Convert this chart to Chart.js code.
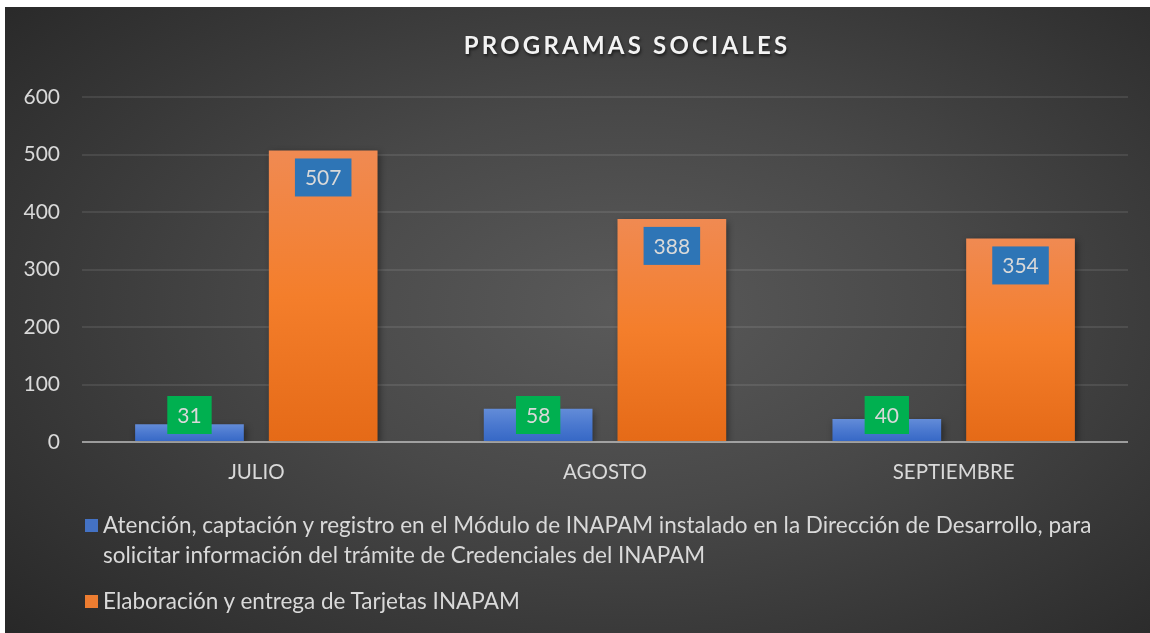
<!DOCTYPE html>
<html>
<head>
<meta charset="utf-8">
<script src="https://cdn.jsdelivr.net/npm/chart.js@4"></script>
<style>
  html, body { margin: 0; padding: 0; background: #ffffff; }
  body { width: 1150px; height: 633px; position: relative; overflow: hidden; }
  #frame {
    position: absolute; left: 5px; top: 7px; width: 1145px; height: 626px;
    background: radial-gradient(ellipse 75% 80% at 54% 48%, #5a5a5a 0%, #484848 40%, #343434 75%, #262626 100%);
  }
  #chartWrap { position: absolute; left: 0; top: 0; width: 1145px; height: 626px; }
  #legend {
    position: absolute; left: 80px; top: 503px; width: 1050px;
    font-family: Lato, "Open Sans", sans-serif; font-size: 22.5px; color: #d9d9d9; line-height: 30px;
  }
  .item { display: flex; align-items: flex-start; margin-bottom: 16px; }
  .sw { width: 13px; height: 13px; margin-top: 9px; margin-right: 5px; flex: 0 0 13px; }
  .txt { width: 990px; }
</style>
</head>
<body>
<div id="frame">
  <div id="chartWrap"><canvas id="c"></canvas></div>
  <div id="legend"></div>
</div>
<script>
const chartTitle = 'PROGRAMAS SOCIALES';
const categories = ['JULIO', 'AGOSTO', 'SEPTIEMBRE'];
const seriesNames = [
  'Atención, captación y registro en el Módulo de INAPAM instalado en la Dirección de Desarrollo, para solicitar información del trámite de Credenciales del INAPAM',
  'Elaboración y entrega de Tarjetas INAPAM'
];
const atencionValues = [31, 58, 40];
const tarjetasValues = [507, 388, 354];
const yMin = 0, yMax = 600, yStep = 100;

const FONT = 'Lato, "Open Sans", sans-serif';
const TEXT = '#d9d9d9';

function barGradient(stops, fallback) {
  return function (ctx) {
    const chart = ctx.chart;
    if (!chart.chartArea || ctx.raw === undefined) return fallback;
    const y = chart.scales.y;
    const top = y.getPixelForValue(ctx.raw);
    const base = y.getPixelForValue(0);
    if (!isFinite(top) || !isFinite(base) || top === base) return fallback;
    const g = chart.ctx.createLinearGradient(0, top, 0, base);
    stops.forEach(s => g.addColorStop(s[0], s[1]));
    return g;
  };
}
const blueStops = [[0, '#638cd8'], [0.5, '#4a78cf'], [1, '#3567c5']];
const orangeStops = [[0, '#f08a52'], [0.5, '#f47e2b'], [1, '#e56a17']];
const seriesSwatch = ['#4472c4', '#ed7d31'];
const labelBoxColors = ['#00b050', '#2e75b6'];

const shadowPlugin = {
  id: 'barShadow',
  beforeDatasetsDraw(chart) {
    const c = chart.ctx;
    c.save();
    c.shadowColor = 'rgba(0,0,0,0.45)';
    c.shadowBlur = 7;
    c.shadowOffsetX = 2;
    c.shadowOffsetY = 3;
  },
  afterDatasetsDraw(chart) { chart.ctx.restore(); }
};

const overlayPlugin = {
  id: 'overlay',
  afterDatasetsDraw(chart) {
    const c = chart.ctx;
    const area = chart.chartArea;
    const y0 = chart.scales.y.getPixelForValue(0);
    c.save();
    c.strokeStyle = 'rgba(200,200,200,0.65)';
    c.lineWidth = 2;
    c.beginPath();
    c.moveTo(area.left, y0);
    c.lineTo(area.right, y0);
    c.stroke();
    // data labels
    c.font = '21px ' + FONT;
    c.textAlign = 'center';
    c.textBaseline = 'middle';
    chart.data.datasets.forEach((ds, di) => {
      const meta = chart.getDatasetMeta(di);
      meta.data.forEach((bar, i) => {
        const txt = String(ds.data[i]);
        const w = c.measureText(txt).width + 20;
        const h = 38;
        let top;
        if (di === 0) top = bar.base - 7 - h;
        else top = bar.y + 8;
        c.fillStyle = labelBoxColors[di];
        c.fillRect(bar.x - w / 2, top, w, h);
        c.fillStyle = TEXT;
        c.fillText(txt, bar.x, top + h / 2 + 1);
      });
    });
    c.restore();
  }
};

const titlePlugin = {
  id: 'customTitle',
  afterDraw(chart) {
    const c = chart.ctx;
    c.save();
    c.font = 'bold 24px ' + FONT;
    if ('letterSpacing' in c) c.letterSpacing = '3.2px';
    c.textAlign = 'center';
    c.textBaseline = 'middle';
    c.shadowColor = 'rgba(0,0,0,0.6)';
    c.shadowBlur = 3;
    c.shadowOffsetX = 1;
    c.shadowOffsetY = 2;
    c.fillStyle = '#f2f2f2';
    c.fillText(chartTitle, 622, 39);
    c.restore();
  }
};

const chart = new Chart(document.getElementById('c'), {
  type: 'bar',
  data: {
    labels: categories,
    datasets: [
      { label: seriesNames[0], data: atencionValues, backgroundColor: barGradient(blueStops, seriesSwatch[0]), borderWidth: 0 },
      { label: seriesNames[1], data: tarjetasValues, backgroundColor: barGradient(orangeStops, seriesSwatch[1]), borderWidth: 0 }
    ]
  },
  options: {
    responsive: true,
    maintainAspectRatio: false,
    animation: false,
    categoryPercentage: 0.767,
    barPercentage: 0.813,
    layout: { padding: { top: 90, right: 22, bottom: 0, left: 0 } },
    plugins: {
      legend: { display: false },
      title: { display: false },
      tooltip: { enabled: false }
    },
    scales: {
      x: {
        grid: { display: false, drawTicks: false },
        border: { display: false },
        ticks: { color: TEXT, font: { family: FONT, size: 20.5 }, padding: 18 },
        afterFit(scale) { scale.height = 191; }
      },
      y: {
        min: yMin, max: yMax,
        grid: { color: 'rgba(255,255,255,0.09)', lineWidth: 2, drawTicks: false },
        border: { display: false },
        ticks: { stepSize: yStep, color: TEXT, font: { family: FONT, size: 21 }, padding: 22 },
        afterFit(scale) { scale.width = 77; }
      }
    }
  },
  plugins: [shadowPlugin, overlayPlugin, titlePlugin]
});

// HTML legend built from the dataset names
const legend = document.getElementById('legend');
chart.data.datasets.forEach((ds, i) => {
  const item = document.createElement('div');
  item.className = 'item';
  const sw = document.createElement('span');
  sw.className = 'sw';
  sw.style.background = seriesSwatch[i];
  const t = document.createElement('span');
  t.className = 'txt';
  t.textContent = ds.label;
  item.appendChild(sw);
  item.appendChild(t);
  legend.appendChild(item);
});
</script>
</body>
</html>
